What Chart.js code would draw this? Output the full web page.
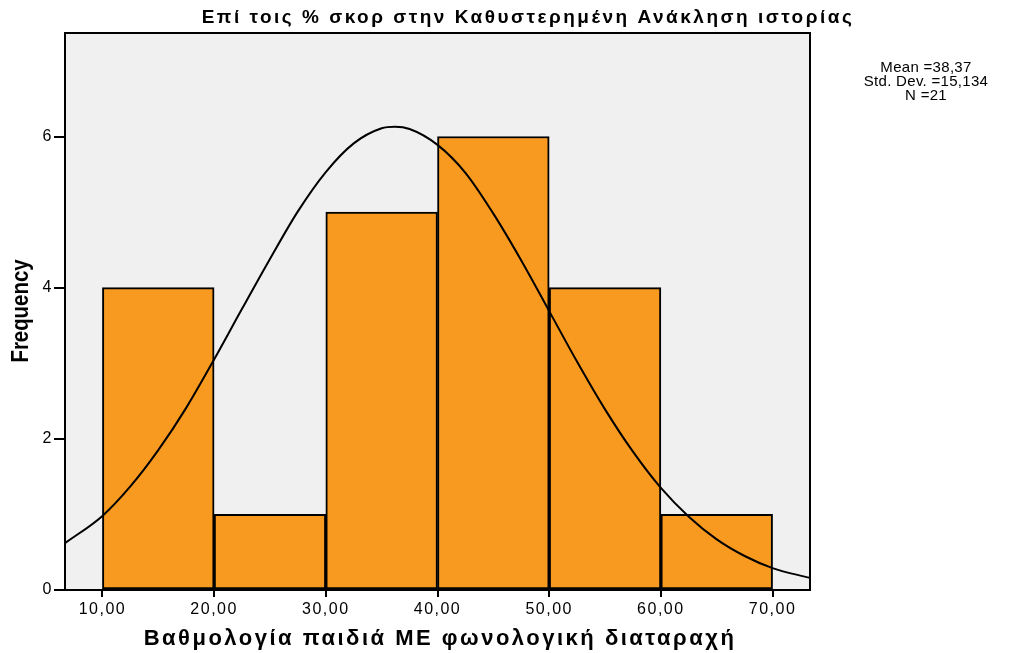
<!DOCTYPE html>
<html lang="el">
<head>
  <meta charset="UTF-8" />
  <title>Ιστόγραμμα</title>
  <style>
    body {
      margin: 0;
      background-color: #fff;
    }
    .chart-box {
      width: 1021px;
      height: 653px;
    }
  </style>
</head>
<body>
  <div class="chart-box">
    <canvas id="histChart"></canvas>
  </div>

  <script src="https://cdn.jsdelivr.net/npm/chart.js"></script>
  <script>
    // bins (centres) and their counts
    const binCentres = [15, 25, 35, 45, 55, 65];
    const binCounts = [4, 1, 5, 6, 4, 1];

    // normal curve
    const curveX = [6.65, 10, 12.5, 15, 17.5, 20, 22.5, 25, 27.5, 30, 32.5, 35, 36.2, 37.5, 40,
                    42.5, 45, 47.5, 50, 52.5, 55, 57.5, 60, 62.5, 65, 67.5, 70, 73.35];
    const curveY = [0.62, 0.98, 1.37, 1.85, 2.41, 3.05, 3.72, 4.38, 5.01, 5.53, 5.91, 6.11, 6.13, 6.10, 5.89,
                    5.52, 4.98, 4.36, 3.69, 3.02, 2.39, 1.83, 1.35, 0.97, 0.67, 0.45, 0.29, 0.16];

    const xTicks = [10, 20, 30, 40, 50, 60, 70];
    const yTicks = [0, 2, 4, 6];

    const chartTitle = 'Επί τοις % σκορ στην Καθυστερημένη Ανάκληση ιστορίας';
    const xTitle = 'Βαθμολογία παιδιά ΜΕ φωνολογική διαταραχή';
    const yTitle = 'Frequency';
    const statLines = ['Mean =38,37', 'Std. Dev. =15,134', 'N =21'];

    const sans = "'Liberation Sans', Arial, sans-serif";
    Chart.defaults.font.family = sans;
    Chart.defaults.color = '#000';

    // SPSS-like frame, background and the texts around the plot
    const plotFrame = {
      id: 'plotFrame',
      beforeDraw(chart) {
        const { ctx, chartArea: a } = chart;
        ctx.letterSpacing = '1.5px'; // tick labels are spaced out a bit
        ctx.save();
        ctx.fillStyle = '#f0f0f0';
        ctx.fillRect(a.left, a.top, a.right - a.left, a.bottom - a.top);
        ctx.restore();
      },
      afterDraw(chart) {
        const { ctx, chartArea: a } = chart;
        ctx.save();
        ctx.strokeStyle = '#000';
        ctx.lineWidth = 2;
        ctx.strokeRect(a.left, a.top, a.right - a.left, a.bottom - a.top);

        ctx.fillStyle = '#000';
        ctx.textAlign = 'center';
        ctx.textBaseline = 'middle';

        ctx.letterSpacing = '2.5px';
        ctx.font = 'bold 19px ' + sans;
        ctx.fillText(chartTitle, 528, 18);

        ctx.font = 'bold 22px ' + sans;
        ctx.fillText(xTitle, 440, 639);

        ctx.letterSpacing = '0.3px';
        ctx.font = '15px ' + sans;
        statLines.forEach((t, i) => ctx.fillText(t, 926, 68 + i * 14));

        ctx.letterSpacing = '0px';
        ctx.translate(21, 311);
        ctx.rotate(-Math.PI / 2);
        ctx.scale(0.85, 1);
        ctx.font = 'bold 24px ' + sans;
        ctx.fillText(yTitle, 0, 0);
        ctx.restore();
      }
    };

    const ctx = document.getElementById('histChart').getContext('2d');
    new Chart(ctx, {
      type: 'bar',
      data: {
        datasets: [
          {
            type: 'line',
            data: curveX.map((x, i) => ({ x: x, y: curveY[i] })),
            borderColor: '#000',
            borderWidth: 2,
            pointRadius: 0,
            cubicInterpolationMode: 'monotone',
            fill: false
          },
          {
            type: 'bar',
            data: binCentres.map((x, i) => ({ x: x, y: binCounts[i] })),
            backgroundColor: '#f89a1f',
            borderColor: '#000',
            borderWidth: 2,
            borderSkipped: false,
            barPercentage: 1,
            categoryPercentage: 1
          }
        ]
      },
      options: {
        responsive: true,
        maintainAspectRatio: false,
        animation: false,
        layout: { padding: { left: 0, top: 33, right: 211, bottom: 0 } },
        plugins: {
          legend: { display: false },
          tooltip: { enabled: false }
        },
        scales: {
          x: {
            type: 'linear',
            offset: false,
            min: 6.65,
            max: 73.35,
            afterBuildTicks: s => { s.ticks = xTicks.map(v => ({ value: v })); },
            afterFit: s => { s.height = 63; },
            grid: { offset: false, drawOnChartArea: false, color: '#000', tickLength: 7, lineWidth: 2 },
            border: { color: '#000', width: 2 },
            ticks: {
              font: { size: 16 },
              padding: 3,
              maxRotation: 0,
              callback: v => v.toFixed(2).replace('.', ',')
            }
          },
          y: {
            min: 0,
            max: 7.37,
            afterBuildTicks: s => { s.ticks = yTicks.map(v => ({ value: v })); },
            afterFit: s => { s.width = 65; },
            grid: { drawOnChartArea: false, color: '#000', tickLength: 11, lineWidth: 2 },
            border: { color: '#000', width: 2 },
            ticks: { font: { size: 16 }, padding: 1 }
          }
        }
      },
      plugins: [plotFrame]
    });
  </script>
</body>
</html>
